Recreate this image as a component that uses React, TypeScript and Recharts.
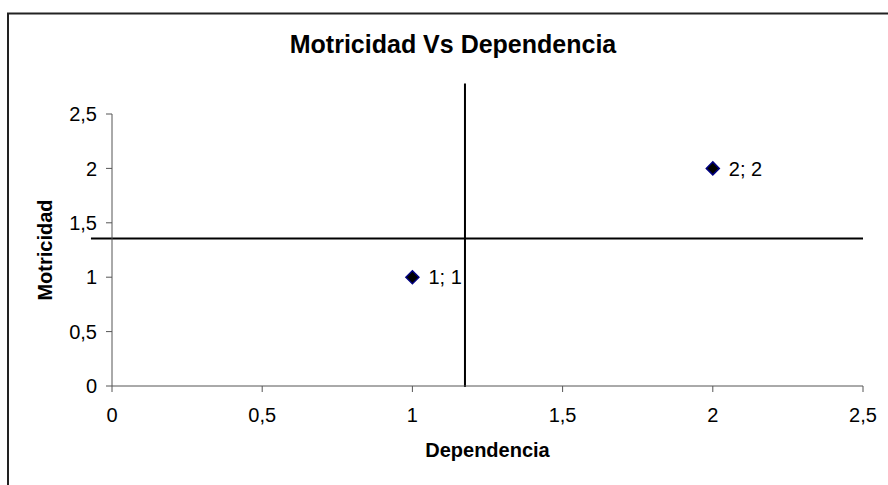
import React from 'react';
import {
  ScatterChart,
  Scatter,
  XAxis,
  YAxis,
  ReferenceLine,
  LabelList,
  Label,
} from 'recharts';

const dependencia = [1, 2];
const motricidad = [1, 2];
const pointLabels = ['1; 1', '2; 2'];
const xTicks = [0, 0.5, 1, 1.5, 2, 2.5];
const yTicks = [0, 0.5, 1, 1.5, 2, 2.5];

// the two cross lines (average of each axis)
const verticalLine = [
  { x: 1.175, y: -0.01 },
  { x: 1.175, y: 2.78 },
];
const horizontalLine = [
  { x: -0.07, y: 1.355 },
  { x: 2.5, y: 1.355 },
];

const data = dependencia.map((d, i) => ({ x: d, y: motricidad[i], label: pointLabels[i] }));

const FONT = 'Arial, "Liberation Sans", sans-serif';
const fmt = (v: number) => String(v).replace('.', ',');

const Diamond = (props: any) => {
  const { cx, cy } = props;
  const r = 6.5;
  return (
    <polygon
      points={`${cx},${cy - r} ${cx + r},${cy} ${cx},${cy + r} ${cx - r},${cy}`}
      fill="#000000"
      stroke="#000080"
      strokeWidth={1.5}
    />
  );
};

const PointLabel = (props: any) => {
  const { x, y, width, height, value } = props;
  return (
    <text
      x={x + width / 2 + 16}
      y={y + height / 2}
      dy="0.36em"
      fontSize={20}
      fontFamily={FONT}
      fill="#000"
    >
      {value}
    </text>
  );
};

const YTitle = (props: any) => {
  const vb = props.viewBox;
  const cy = vb.y + vb.height / 2;
  return (
    <text
      x={45}
      y={cy}
      transform={`rotate(-90, 45, ${cy})`}
      textAnchor="middle"
      dy="0.36em"
      fontSize={20}
      fontWeight="bold"
      fontFamily={FONT}
      fill="#000"
    >
      Motricidad
    </text>
  );
};

const XTitle = (props: any) => {
  const vb = props.viewBox;
  return (
    <text
      x={vb.x + vb.width / 2}
      y={457}
      textAnchor="middle"
      fontSize={20}
      fontWeight="bold"
      fontFamily={FONT}
      fill="#000"
    >
      Dependencia
    </text>
  );
};

const App: React.FC = () => (
  <div style={{ position: 'absolute', left: 0, top: 0, width: 888, height: 485, overflow: 'hidden', background: '#fff' }}>
    <svg width={888} height={485} style={{ position: 'absolute', left: 0, top: 0 }}>
      <rect x={8} y={13.5} width={900} height={500} fill="none" stroke="#222" strokeWidth={2} />
      <text x={453} y={53} textAnchor="middle" fontSize={25} fontWeight="bold" fontFamily={FONT} fill="#000">
        Motricidad Vs Dependencia
      </text>
    </svg>
    <div style={{ position: 'absolute', left: 0, top: 0 }}>
      <ScatterChart width={888} height={485} margin={{ top: 114, right: 25, bottom: 19, left: 0 }}>
        <XAxis
          type="number"
          dataKey="x"
          domain={[0, 2.5]}
          ticks={xTicks}
          tickFormatter={fmt}
          height={80}
          tickSize={6}
          tickMargin={16}
          stroke="#555"
          tick={{ fill: '#000', fontSize: 20, fontFamily: FONT }}
          allowDataOverflow
        >
          <Label content={<XTitle />} />
        </XAxis>
        <YAxis
          type="number"
          dataKey="y"
          domain={[0, 2.5]}
          ticks={yTicks}
          tickFormatter={fmt}
          width={112}
          tickSize={6}
          tickMargin={9}
          stroke="#555"
          tick={{ fill: '#000', fontSize: 20, fontFamily: FONT }}
          allowDataOverflow
        >
          <Label content={<YTitle />} />
        </YAxis>
        <ReferenceLine
          segment={verticalLine}
          stroke="#000"
          strokeWidth={2}
          ifOverflow="visible"
        />
        <ReferenceLine
          segment={horizontalLine}
          stroke="#000"
          strokeWidth={2}
          ifOverflow="visible"
        />
        <Scatter data={data} shape={<Diamond />} isAnimationActive={false}>
          <LabelList dataKey="label" content={<PointLabel />} />
        </Scatter>
      </ScatterChart>
    </div>
  </div>
);

export default App;
